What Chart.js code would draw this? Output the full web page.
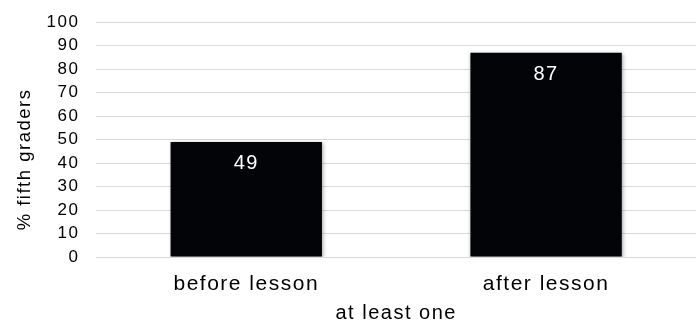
<!DOCTYPE html>
<html>
<head>
<meta charset="utf-8">
<script src="https://cdn.jsdelivr.net/npm/chart.js@4/dist/chart.umd.min.js"></script>
<style>
  html, body { margin: 0; padding: 0; background: #fff; }
  #wrap { width: 696px; height: 322px; }
</style>
</head>
<body>
<div id="wrap"><canvas id="myChart"></canvas></div>
<script>
const categories = ['before lesson', 'after lesson'];
const percentValues = [49, 87];
const yTicks = [0, 10, 20, 30, 40, 50, 60, 70, 80, 90, 100];

const FONT = '"Liberation Sans", Arial, sans-serif';
const ctx = document.getElementById('myChart');

// the source picture is a bit stretched sideways, so widen the text a little
const wideText = {
  id: 'wideText',
  beforeLayout(chart) { chart.ctx.letterSpacing = '1.5px'; },
  beforeDraw(chart) { chart.ctx.letterSpacing = '1.5px'; }
};

// white number drawn inside the top of each bar
const barLabels = {
  id: 'barLabels',
  afterDatasetsDraw(chart) {
    const c = chart.ctx;
    const meta = chart.getDatasetMeta(0);
    c.save();
    c.fillStyle = '#ffffff';
    c.font = '20px ' + FONT;
    c.textAlign = 'center';
    c.textBaseline = 'middle';
    meta.data.forEach((bar, i) => {
      c.fillText(String(percentValues[i]), bar.x, bar.y + 22);
    });
    c.restore();
  }
};

// soft shadow round the bars
const barShadow = {
  id: 'barShadow',
  beforeDatasetsDraw(chart) {
    chart.ctx.save();
    chart.ctx.shadowColor = 'rgba(0,0,0,0.35)';
    chart.ctx.shadowBlur = 4;
    chart.ctx.shadowOffsetX = 1;
    chart.ctx.shadowOffsetY = 1;
  },
  afterDatasetsDraw(chart) {
    chart.ctx.restore();
  }
};

new Chart(ctx, {
  type: 'bar',
  data: {
    labels: categories,
    datasets: [{
      data: percentValues,
      backgroundColor: '#030408',
      borderWidth: 0,
      categoryPercentage: 1,
      barPercentage: 0.505
    }]
  },
  options: {
    responsive: true,
    maintainAspectRatio: false,
    animation: false,
    layout: { padding: { top: 2, right: 0, bottom: 0, left: 0 } },
    plugins: {
      legend: { display: false },
      tooltip: { enabled: false }
    },
    scales: {
      x: {
        grid: { display: false, drawTicks: false },
        border: { display: false },
        ticks: {
          color: '#000',
          padding: 17,
          font: { family: FONT, size: 21, lineHeight: 1 }
        },
        title: {
          display: true,
          text: 'at least one',
          color: '#000',
          padding: { top: -8, bottom: 0 },
          font: { family: FONT, size: 20, lineHeight: 0.9 }
        }
      },
      y: {
        min: 0,
        max: 100,
        afterBuildTicks(axis) {
          axis.ticks = yTicks.map(v => ({ value: v }));
        },
        grid: { color: '#d9d9d9', lineWidth: 1, drawTicks: false },
        border: { display: false },
        ticks: {
          color: '#000',
          autoSkip: false,
          padding: 17,
          font: { family: FONT, size: 17, lineHeight: 0.6 }
        },
        title: {
          display: true,
          text: '% fifth graders      ',
          color: '#000',
          padding: { top: 16, bottom: -5 },
          font: { family: FONT, size: 18.5, lineHeight: 1 }
        }
      }
    }
  },
  plugins: [wideText, barShadow, barLabels]
});
</script>
</body>
</html>
